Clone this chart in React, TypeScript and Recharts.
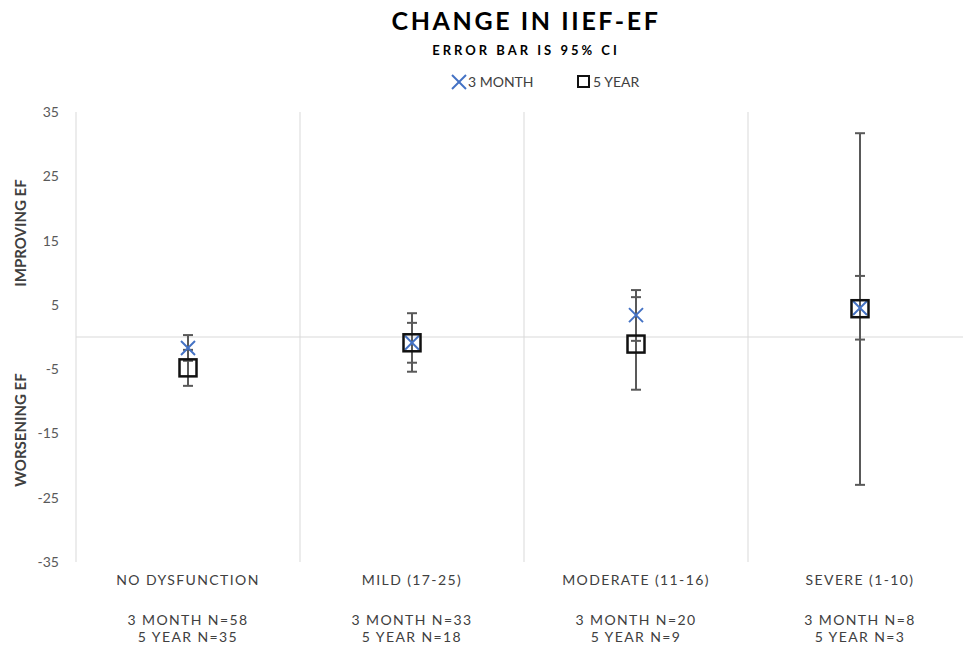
import React from 'react';
import { ComposedChart, Scatter, ErrorBar, XAxis, YAxis, ReferenceLine } from 'recharts';

document.body.style.margin = '0';
document.body.style.overflow = 'hidden';

const categories = ['NO DYSFUNCTION', 'MILD (17-25)', 'MODERATE (11-16)', 'SEVERE (1-10)'];
const n3Month = [58, 33, 20, 8];
const n5Year = [35, 18, 9, 3];

const mean3Month = [-1.7, -0.9, 3.4, 4.5];
const low3Month = [-3.7, -4.0, -0.6, -0.4];
const high3Month = [0.3, 2.2, 7.3, 9.5];

const mean5Year = [-4.8, -0.9, -1.1, 4.4];
const low5Year = [-7.6, -5.4, -8.2, -23.0];
const high5Year = [-2.0, 3.7, 6.2, 31.7];

const yTicks = [-35, -25, -15, -5, 5, 15, 25, 35];

const FONT = 'Lato, "Open Sans", sans-serif';
const BLUE = '#4472C4';
const GRID = '#d9d9d9';
const ERR = '#595959';

// x position = middle of each category band
const build = (mean: number[], low: number[], high: number[]) =>
  mean.map((m, i) => ({ x: i + 0.5, y: m, err: [m - low[i], high[i] - m] }));

const data3Month = build(mean3Month, low3Month, high3Month);
const data5Year = build(mean5Year, low5Year, high5Year);

const CrossShape = (props: any) => {
  const { cx, cy } = props;
  const s = 7;
  return (
    <g>
      <line x1={cx - s} y1={cy - s} x2={cx + s} y2={cy + s} stroke={BLUE} strokeWidth={2} />
      <line x1={cx - s} y1={cy + s} x2={cx + s} y2={cy - s} stroke={BLUE} strokeWidth={2} />
    </g>
  );
};

const SquareShape = (props: any) => {
  const { cx, cy } = props;
  const s = 8.5;
  return <rect x={cx - s} y={cy - s} width={s * 2} height={s * 2} fill="none" stroke="#111" strokeWidth={2.5} />;
};

const CategoryTick = (props: any) => {
  const { x, y, payload } = props;
  const i = Math.round(payload.value - 0.5);
  const common = { x, y, textAnchor: 'middle' as const, fontSize: 14, fill: '#404040', letterSpacing: 1.4, fontFamily: FONT };
  return (
    <g>
      <text {...common} dy={23}>{categories[i]}</text>
      <text {...common} dy={63}>{`3 MONTH N=${n3Month[i]}`}</text>
      <text {...common} dy={80}>{`5 YEAR N=${n5Year[i]}`}</text>
    </g>
  );
};

const App = () => {
  return (
    <div style={{ position: 'relative', width: 963, height: 646, overflow: 'hidden', background: '#fff' }}>
      <ComposedChart width={976} height={646} margin={{ top: 112, right: 4, bottom: 0, left: 0 }}>
        <XAxis
          dataKey="x"
          type="number"
          domain={[0, 4]}
          ticks={[0.5, 1.5, 2.5, 3.5]}
          axisLine={false}
          tickLine={false}
          tickSize={0}
          tickMargin={0}
          height={84}
          tick={<CategoryTick />}
        />
        <YAxis
          type="number"
          domain={[-35, 35]}
          ticks={yTicks}
          width={76}
          axisLine={{ stroke: GRID }}
          tickLine={false}
          tickSize={0}
          tickMargin={17}
          tick={{ fontSize: 14, fill: ERR, fontFamily: FONT }}
        />
        <ReferenceLine x={1} stroke={GRID} />
        <ReferenceLine x={2} stroke={GRID} />
        <ReferenceLine x={3} stroke={GRID} />
        <ReferenceLine y={0} stroke={GRID} />
        <Scatter name="3 MONTH" data={data3Month} dataKey="y" shape={<CrossShape />} isAnimationActive={false}>
          <ErrorBar dataKey="err" direction="y" width={5} stroke={ERR} strokeWidth={2} />
        </Scatter>
        <Scatter name="5 YEAR" data={data5Year} dataKey="y" shape={<SquareShape />} isAnimationActive={false}>
          <ErrorBar dataKey="err" direction="y" width={5} stroke={ERR} strokeWidth={2} />
        </Scatter>
      </ComposedChart>

      <svg width={963} height={646} style={{ position: 'absolute', left: 0, top: 0, pointerEvents: 'none' }}>
        <text x={526} y={30} textAnchor="middle" fontSize={25} fontWeight={700} letterSpacing={2.6} fill="#000" fontFamily={FONT}>
          CHANGE IN IIEF-EF
        </text>
        <text x={526} y={55} textAnchor="middle" fontSize={13} fontWeight={700} letterSpacing={3} fill="#000" fontFamily={FONT}>
          ERROR BAR IS 95% CI
        </text>
        <CrossShape cx={459} cy={82} />
        <text x={468} y={87} fontSize={14} fill="#404040" fontFamily={FONT}>3 MONTH</text>
        <rect x={578} y={76} width={11} height={11} fill="none" stroke="#111" strokeWidth={2} />
        <text x={593} y={87} fontSize={14} fill="#404040" fontFamily={FONT}>5 YEAR</text>
        <text transform="translate(26,233) rotate(-90)" textAnchor="middle" fontSize={15} fontWeight={700} fill="#404040" fontFamily={FONT}>
          IMPROVING EF
        </text>
        <text transform="translate(26,430) rotate(-90)" textAnchor="middle" fontSize={15} fontWeight={700} fill="#404040" fontFamily={FONT}>
          WORSENING EF
        </text>
      </svg>
    </div>
  );
};

export default App;
